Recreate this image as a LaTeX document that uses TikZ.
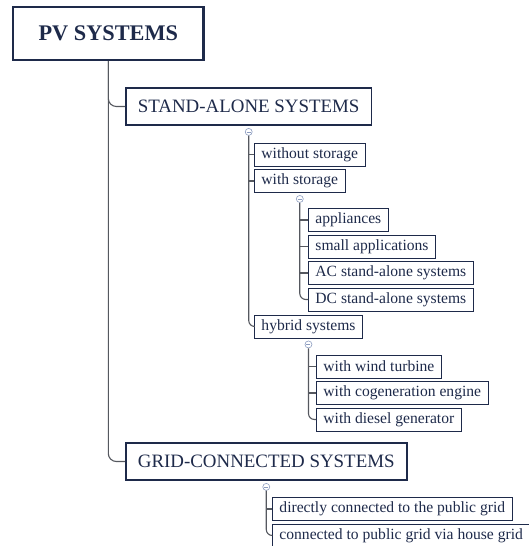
\documentclass[tikz,border=0pt]{standalone}
\usepackage{fontspec}
\setmainfont{Liberation Serif}
\definecolor{navy}{HTML}{1E2A4A}
\definecolor{conn}{HTML}{55585F}
\definecolor{knobc}{HTML}{8C9CC0}
\tikzset{
  topbox/.style={draw=navy, line width=2.2pt, text=navy, font=\bfseries\fontsize{22.3}{26}\selectfont, minimum height=53pt, inner xsep=25.5pt, anchor=west},
  lvlbox/.style={draw=navy, line width=1.8pt, text=navy, font=\fontsize{18.9}{22}\selectfont, minimum height=37pt, inner xsep=12pt, anchor=west},
  leafbox/.style={draw=navy, line width=0.9pt, text=navy, font=\fontsize{15.6}{18}\selectfont, minimum height=23pt, inner xsep=7pt, inner ysep=0pt, anchor=west},
  knob/.style={circle, draw=knobc, fill=white, line width=0.6pt, minimum size=7pt, inner sep=0pt,
    path picture={\draw[knobc, line width=0.6pt] ([xshift=-2pt]path picture bounding box.center) -- ([xshift=2pt]path picture bounding box.center);}},
  link/.style={draw=conn, line width=1.1pt, rounded corners=6pt}
}
\begin{document}
\begin{tikzpicture}[x=1pt,y=1pt]
\useasboundingbox (0,0) rectangle (528,-546);
\node[topbox] (pv) at (12,-33.5) {PV SYSTEMS};
\node[lvlbox] (sa) at (125,-106.5) {STAND-ALONE SYSTEMS};
\node[lvlbox] (gc) at (125,-461.5) {GRID-CONNECTED SYSTEMS};
\node[leafbox] (wo) at (254,-154.5) {without storage};
\node[leafbox] (ws) at (254,-181) {with storage};
\node[leafbox] (hy) at (254,-326.5) {hybrid systems};
\node[leafbox] (ap) at (308,-220) {appliances};
\node[leafbox] (sm) at (308,-246.5) {small applications};
\node[leafbox] (ac) at (308,-273) {AC stand-alone systems};
\node[leafbox] (dc) at (308,-299.5) {DC stand-alone systems};
\node[leafbox] (wt) at (316,-366.5) {with wind turbine};
\node[leafbox] (co) at (316,-393) {with cogeneration engine};
\node[leafbox] (di) at (316,-419.5) {with diesel generator};
\node[leafbox] (dg) at (272,-509) {directly connected to the public grid};
\node[leafbox] (hg) at (272,-535.5) {connected to public grid via house grid};
% main trunk
\draw[link, rounded corners=8pt] (pv.south) |- (sa.west);
\draw[link, rounded corners=8pt] (pv.south) |- (gc.west);
% knobs
\node[knob] (k1) at ([yshift=-6pt]sa.south) {};
\node[knob] (k2) at ([yshift=-6pt]ws.south) {};
\node[knob] (k3) at ([yshift=-6pt]hy.south) {};
\node[knob] (k4) at ([yshift=-6pt]gc.south) {};
% stand-alone children
\draw[link] (k1.south) |- (hy.west);
\draw[link] (k1.south |- wo.west) -- (wo.west);
\draw[link] (k1.south |- ws.west) -- (ws.west);
% with storage children
\draw[link] (k2.south) |- (dc.west);
\draw[link] (k2.south |- ap.west) -- (ap.west);
\draw[link] (k2.south |- sm.west) -- (sm.west);
\draw[link] (k2.south |- ac.west) -- (ac.west);
% hybrid children
\draw[link] (k3.south) |- (di.west);
\draw[link] (k3.south |- wt.west) -- (wt.west);
\draw[link] (k3.south |- co.west) -- (co.west);
% grid children
\draw[link] (k4.south) |- (hg.west);
\draw[link] (k4.south |- dg.west) -- (dg.west);
\end{tikzpicture}
\end{document}
